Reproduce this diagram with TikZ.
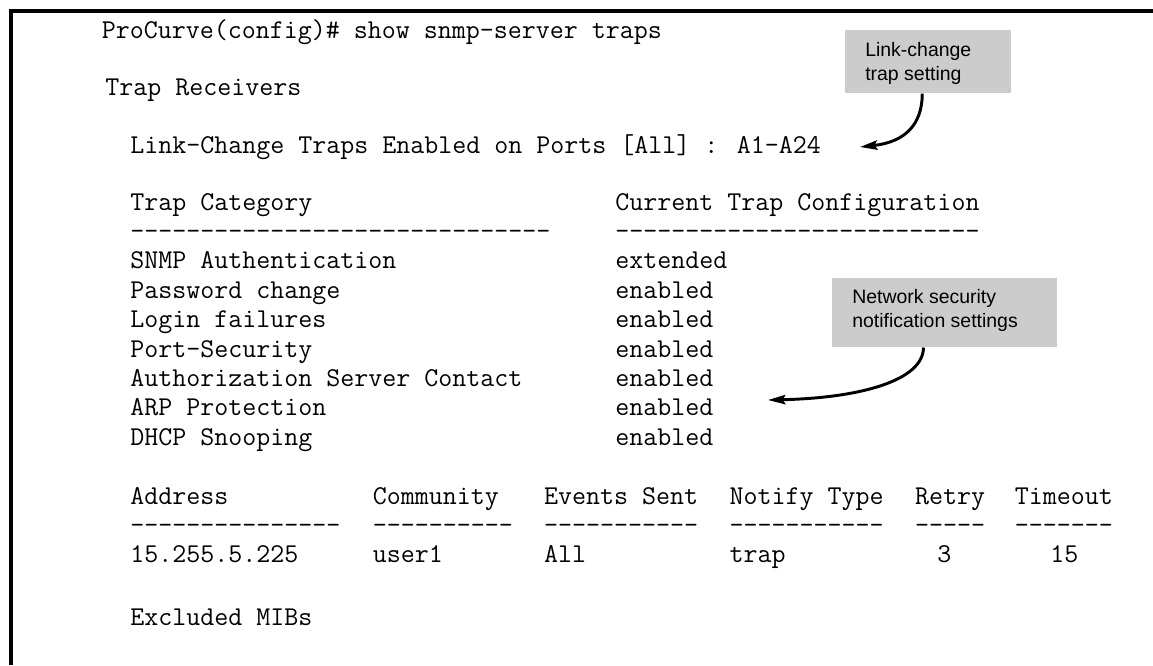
\documentclass[tikz,border=0pt]{standalone}
\usepackage{fontspec}
\setmainfont{Liberation Sans}
\usetikzlibrary{arrows.meta}
\definecolor{notegray}{RGB}{204,204,204}

\begin{document}
\begin{tikzpicture}[x=0.75pt, y=-0.75pt,
    every node/.style={inner sep=0pt, anchor=base west},
    term/.style={font=\ttfamily\fontsize{20.39}{22}\selectfont},
    notebox/.style={fill=notegray, anchor=north west},
    notetext/.style={font=\fontsize{14.6}{18}\selectfont, align=left},
    notearrow/.style={-{Stealth[length=13pt,width=7pt,inset=2pt]}, line width=2.2pt}]
    \useasboundingbox (0,0) rectangle (1153,665);
    % frame, open at right and bottom
    \draw[line width=2.6pt] (1153,11) -| (11,665);

    % command output
    \node[term] (prompt) at (101.5,38) {ProCurve(config)\# show snmp-server traps};
    \node[term] (recv) at (105,95.5) {Trap Receivers};
    \node[term] (ports) at (130,153) {Link-Change Traps Enabled on Ports [All] : A1-A24};
    \node[term] (cathead) at (130,210.5) {Trap Category};
    \node[term] (cfghead) at (615.2,210.5) {Current Trap Configuration};
    \node[term] (catrule) at (130,239.8) {------------------------------};
    \node[term] (cfgrule) at (615.2,239.8) {--------------------------};
    \foreach \cat/\val [count=\i] in {SNMP Authentication/extended, Password change/enabled,
        Login failures/enabled, Port-Security/enabled, Authorization Server Contact/enabled,
        ARP Protection/enabled, DHCP Snooping/enabled}{
        \node[term] (cat\i) at (130,239.4+29.4*\i) {\cat};
        \node[term] (val\i) at (615.2,239.4+29.4*\i) {\val};
    }

    % receiver table
    \foreach \x/\head/\dashes [count=\i] in {130/Address/---------------, 372.6/Community/----------,
        543.8/Events Sent/-----------, 729.3/Notify Type/-----------, 914.9/Retry/-----,
        1014.7/Timeout/-------}{
        \node[term] (head\i) at (\x,504) {\head};
        \node[term] (rule\i) at (\x,533) {\dashes};
    }
    \node[term] (addr) at (130,562.5) {15.255.5.225};
    \node[term] (comm) at (372.6,562.5) {user1};
    \node[term] (events) at (543.8,562.5) {All};
    \node[term] (notify) at (729.3,562.5) {trap};
    \node[term] (retry) at (937,562.5) {3};
    \node[term] (timeout) at (1050,562.5) {15};
    \node[term] (mibs) at (130,625) {Excluded MIBs};

    % callouts
    \node[notebox, minimum width=124.5pt, minimum height=47.25pt] (linkbox) at (845,30) {};
    \node[notetext] (linknote) at (865,80) {Link-change\\trap setting};
    \node[notebox, minimum width=168.75pt, minimum height=51.75pt] (netbox) at (832,278) {};
    \node[notetext] (netnote) at (852,327) {Network security\\notification settings};
    \coordinate (linktip) at (860,147);
    \coordinate (nettip) at (768,400);
    \draw[notearrow] ([xshift=-4.5pt]linkbox.south) .. controls +(0,31) and (905,142) .. (linktip);
    \draw[notearrow] ([xshift=-16pt]netbox.south) .. controls +(0,33) and (860,398) .. (nettip);
\end{tikzpicture}
\end{document}
